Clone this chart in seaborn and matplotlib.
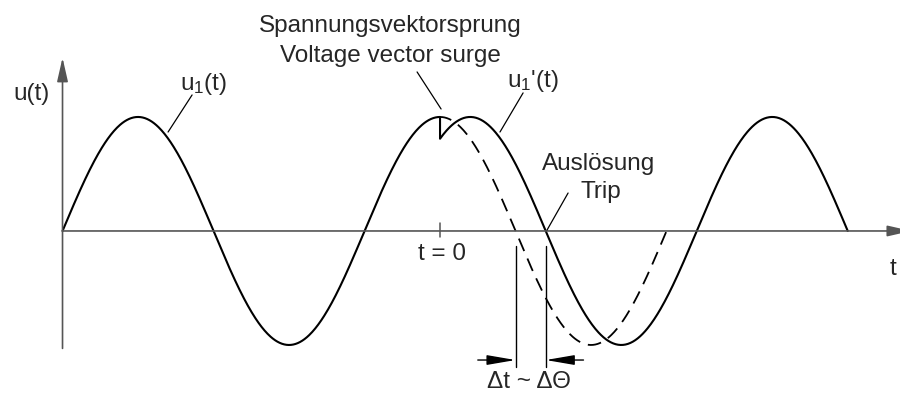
import numpy as np
import pandas as pd
import matplotlib
matplotlib.use("Agg")
import matplotlib.pyplot as plt
import seaborn as sns

# signal: 50 Hz, time in ms, t = 0 at the vector surge
freq_hz = 50.0
amplitude = 1.0
phase_jump_ms = 2.0        # shift of u1'(t) against u1(t)
t_start_ms = -25.0         # where u(t) starts on the y axis
t_end_solid_ms = 27.0      # end of u1'(t)
t_end_dashed_ms = 15.0     # end of the continued (dashed) u1(t)

label_u = "u(t)"
label_t = "t"
label_t0 = "t = 0"
label_u1 = r"u$_\mathrm{1}$(t)"
label_u1s = r"u$_\mathrm{1}$'(t)"
label_surge = ["Spannungsvektorsprung", "Voltage vector surge"]
label_trip = ["Auslösung", "Trip"]
label_delta = "Δt ~ ΔΘ"

omega = 2 * np.pi * freq_hz / 1000.0

t_before = np.linspace(t_start_ms, 0, 500)
t_after = np.linspace(0, t_end_solid_ms, 500)
t_dash = np.linspace(0, t_end_dashed_ms, 300)

solid = pd.DataFrame({
    "t": np.concatenate([t_before, t_after]),
    "u": np.concatenate([amplitude * np.cos(omega * t_before),
                         amplitude * np.cos(omega * (t_after - phase_jump_ms))]),
})
dashed = pd.DataFrame({"t": t_dash, "u": amplitude * np.cos(omega * t_dash)})

# zero crossings used for the delta-t marker
t_zero_old = 0.25 * 1000.0 / freq_hz
t_zero_new = t_zero_old + phase_jump_ms

sns.set_style("white")
plt.rcParams["font.family"] = ["Liberation Sans", "DejaVu Sans"]
plt.rcParams["mathtext.fontset"] = "custom"
plt.rcParams["mathtext.rm"] = "Liberation Sans"
plt.rcParams["mathtext.it"] = "Liberation Sans"

fig = plt.figure(figsize=(9, 3.94), dpi=100)
ax = fig.add_axes([0, 0, 1, 1])
ax.set_xlim(-29.14, 30.46)
ax.set_ylim(-1.43, 2.026)
ax.axis("off")

sns.lineplot(data=solid, x="t", y="u", ax=ax, color="black", lw=1.5,
             estimator=None, sort=False)
sns.lineplot(data=dashed, x="t", y="u", ax=ax, color="black", lw=1.3,
             estimator=None, sort=False, linestyle=(1, (7.5, 4.5)))

axis_col = "#555555"
head = "-|>,head_length=1.45,head_width=0.33"
ax.annotate("", xy=(31.2, 0), xytext=(t_start_ms, 0), annotation_clip=False,
            arrowprops=dict(arrowstyle=head, color=axis_col, lw=1.2,
                            shrinkA=0, shrinkB=0))
ax.annotate("", xy=(t_start_ms, 1.52), xytext=(t_start_ms, -1.03),
            annotation_clip=False,
            arrowprops=dict(arrowstyle=head, color=axis_col, lw=1.2,
                            shrinkA=0, shrinkB=0))
ax.plot([0, 0], [-0.053, 0.07], color=axis_col, lw=1.1)

fs = 17.5
ax.text(-28.28, 1.149, label_u, fontsize=fs, ha="left", va="baseline")
ax.text(29.8, -0.386, label_t, fontsize=fs, ha="left", va="baseline")
ax.text(0.13, -0.254, label_t0, fontsize=fs, ha="center", va="baseline")
ax.text(-17.2, 1.237, label_u1, fontsize=fs, ha="left", va="baseline")
ax.text(4.44, 1.263, label_u1s, fontsize=fs, ha="left", va="baseline")
ax.text(-3.3, 1.746, label_surge[0], fontsize=fs, ha="center", va="baseline")
ax.text(-3.3, 1.482, label_surge[1], fontsize=fs, ha="center", va="baseline")
ax.text(6.75, 0.535, label_trip[0], fontsize=fs, ha="left", va="baseline")
ax.text(9.27, 0.289, label_trip[1], fontsize=fs, ha="left", va="baseline")
ax.text(3.11, -1.375, label_delta, fontsize=fs, ha="left", va="baseline")

# leader lines
leader = dict(arrowstyle="-", color="black", lw=0.9, shrinkA=0, shrinkB=0)
ax.annotate("", xy=(-18.01, 0.868), xytext=(-16.42, 1.193), arrowprops=leader)
ax.annotate("", xy=(0.07, 1.07), xytext=(-1.52, 1.395), arrowprops=leader)
ax.annotate("", xy=(3.97, 0.868), xytext=(5.5, 1.211), arrowprops=leader)
ax.annotate("", xy=(7.09, 0.009), xytext=(8.48, 0.333), arrowprops=leader)

# delta-t marker
for tz in (t_zero_old, t_zero_new):
    ax.plot([tz, tz], [-0.132, -1.193], color="black", lw=1.0)
arr = dict(arrowstyle="-|>,head_length=1.75,head_width=0.3", color="black",
           lw=1.0, shrinkA=0, shrinkB=0)
ax.annotate("", xy=(t_zero_old, -1.132), xytext=(t_zero_old - 2.5, -1.132),
            arrowprops=arr)
ax.annotate("", xy=(t_zero_new, -1.132), xytext=(t_zero_new + 2.5, -1.132),
            arrowprops=arr)

fig.savefig("out.png", dpi=100)
